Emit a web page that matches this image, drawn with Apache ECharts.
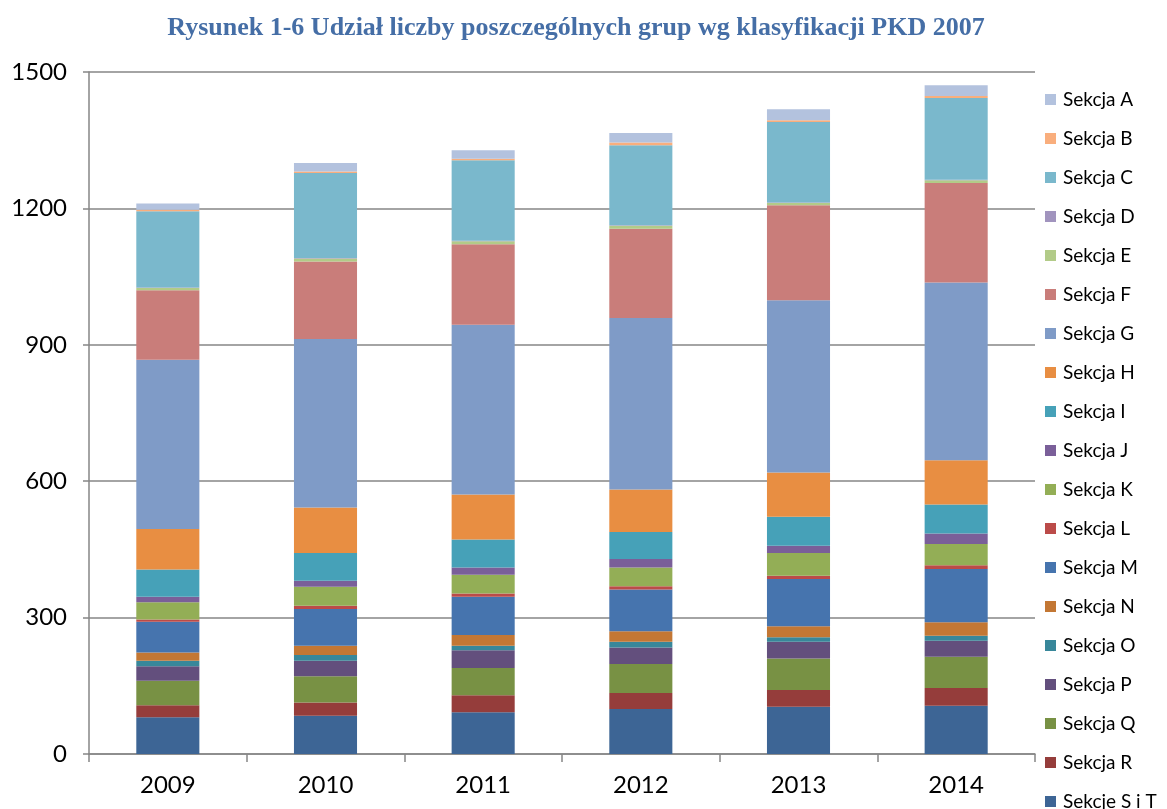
<!DOCTYPE html>
<html>
<head>
<meta charset="utf-8">
<script src="https://cdn.jsdelivr.net/npm/echarts@6/dist/echarts.min.js"></script>
<style>
  html, body { margin: 0; padding: 0; background: #fff; }
  #chart { width: 1167px; height: 809px; }
</style>
</head>
<body>
<div id="chart"></div>
<script>
// lata
const years = ['2009', '2010', '2011', '2012', '2013', '2014'];

// wartości, od dołu stosu
const sekcjeSiT = [81, 84, 92, 99, 104, 106];
const sekcjaR = [26, 29, 37, 35, 37, 39];
const sekcjaQ = [54, 58, 60, 64, 69, 69];
const sekcjaP = [32, 34, 39, 36, 37, 35];
const sekcjaO = [12, 13, 10, 13, 10, 11];
const sekcjaN = [18, 20, 24, 23, 24, 30];
const sekcjaM = [68, 81, 84, 92, 104, 117];
const sekcjaL = [5, 7, 7, 7, 7, 8];
const sekcjaK = [38, 42, 41, 41, 50, 47];
const sekcjaJ = [12, 13, 16, 19, 16, 23];
const sekcjaI = [60, 61, 62, 59, 64, 64];
const sekcjaH = [89, 100, 99, 94, 97, 97];
const sekcjaG = [372, 371, 373, 377, 379, 391];
const sekcjaF = [153, 170, 177, 196, 209, 219];
const sekcjaE = [5, 7, 7, 7, 5, 6];
const sekcjaD = [1, 1, 1, 1, 1, 1];
const sekcjaC = [168, 187, 177, 176, 177, 180];
const sekcjaB = [3, 3, 3, 6, 4, 4];
const sekcjaA = [14, 19, 19, 21, 24, 24];

const yTicks = [0, 300, 600, 900, 1200, 1500];

// kolejność stosu: od dołu do góry
const seriesList = [
  { name: 'Sekcje S i T', data: sekcjeSiT, color: '#3d6595' },
  { name: 'Sekcja R', data: sekcjaR, color: '#953d3b' },
  { name: 'Sekcja Q', data: sekcjaQ, color: '#789144' },
  { name: 'Sekcja P', data: sekcjaP, color: '#634f7d' },
  { name: 'Sekcja O', data: sekcjaO, color: '#38879a' },
  { name: 'Sekcja N', data: sekcjaN, color: '#c37734' },
  { name: 'Sekcja M', data: sekcjaM, color: '#4674ae' },
  { name: 'Sekcja L', data: sekcjaL, color: '#bb4b49' },
  { name: 'Sekcja K', data: sekcjaK, color: '#93ae56' },
  { name: 'Sekcja J', data: sekcjaJ, color: '#7a5f99' },
  { name: 'Sekcja I', data: sekcjaI, color: '#46a1b8' },
  { name: 'Sekcja H', data: sekcjaH, color: '#e88e42' },
  { name: 'Sekcja G', data: sekcjaG, color: '#7f9bc7' },
  { name: 'Sekcja F', data: sekcjaF, color: '#c97d7a' },
  { name: 'Sekcja E', data: sekcjaE, color: '#b2cb88' },
  { name: 'Sekcja D', data: sekcjaD, color: '#a194be' },
  { name: 'Sekcja C', data: sekcjaC, color: '#7ab8cc' },
  { name: 'Sekcja B', data: sekcjaB, color: '#f9ae7d' },
  { name: 'Sekcja A', data: sekcjaA, color: '#b3c2de' }
];

const chart = echarts.init(document.getElementById('chart'));
const labelFont = 'Lato, "Liberation Sans", sans-serif';

chart.setOption({
  animation: false,
  title: {
    text: 'Rysunek 1-6 Udział liczby poszczególnych grup wg klasyfikacji PKD 2007',
    left: 571,
    textAlign: 'center',
    top: 10,
    textStyle: {
      fontFamily: '"Liberation Serif", "DejaVu Serif", serif',
      fontWeight: 'bold',
      fontSize: 26,
      color: '#456ea6'
    }
  },
  legend: {
    orient: 'vertical',
    left: 1045,
    top: 90,
    height: 760,
    padding: 0,
    itemWidth: 11,
    itemHeight: 11,
    itemGap: 20,
    icon: 'rect',
    data: seriesList.map((s) => s.name).reverse(),
    textStyle: {
      fontFamily: labelFont,
      fontSize: 19,
      color: '#000',
      padding: [0, 0, 0, 2]
    }
  },
  grid: { left: 89, right: 132, top: 72, bottom: 55 },
  xAxis: {
    type: 'category',
    data: years,
    axisLine: { lineStyle: { color: '#868686', width: 1.5 } },
    axisTick: { show: true, length: 8, lineStyle: { color: '#868686', width: 1.5 } },
    axisLabel: { fontFamily: labelFont, fontSize: 24, color: '#000', margin: 19 }
  },
  yAxis: {
    type: 'value',
    min: yTicks[0],
    max: yTicks[yTicks.length - 1],
    interval: 300,
    axisLine: { show: true, lineStyle: { color: '#868686', width: 1.5 } },
    axisTick: { show: true, length: 6, lineStyle: { color: '#868686', width: 1.5 } },
    splitLine: { lineStyle: { color: '#868686', width: 1.5 } },
    axisLabel: {
      fontFamily: labelFont,
      fontSize: 24,
      color: '#000',
      margin: 22,
      formatter: (v) => String(v)
    }
  },
  series: seriesList.map((s) => ({
    name: s.name,
    type: 'bar',
    stack: 'total',
    barWidth: '40%',
    data: s.data,
    itemStyle: { color: s.color }
  }))
});
</script>
</body>
</html>
